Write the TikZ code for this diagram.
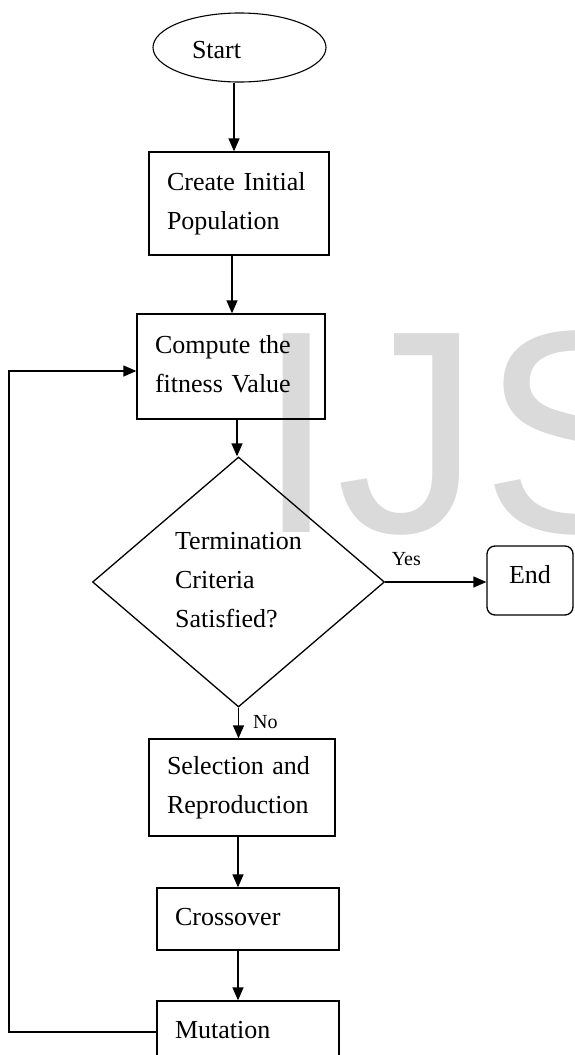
\documentclass[tikz,border=0pt]{standalone}
\usepackage{fontspec}
\setmainfont{Liberation Serif}
\newfontfamily\wmfont{Liberation Sans}
\usetikzlibrary{shapes.geometric,arrows.meta}
\definecolor{wmgray}{RGB}{218,218,218}
% uniform line strut: height 24pt, depth 12pt
\newcommand{\ls}{\rule[-12pt]{0pt}{36pt}}

\begin{document}
\begin{tikzpicture}[x=1pt,y=-1pt,
  every node/.style={font=\fontsize{26}{39}\selectfont},
  box/.style={draw, line width=1.3pt, rectangle, inner xsep=18pt, inner ysep=0pt, align=left},
  arr/.style={line width=1.3pt, -{Triangle[length=13pt,width=11pt]}},
  lbl/.style={font=\fontsize{20}{24}\selectfont, inner sep=0pt}]

\useasboundingbox (0,0) rectangle (574,1055);
\clip (0,0) rectangle (574,1055);

% background mark
\node[font=\wmfont\fontsize{289}{289}\selectfont, text=wmgray, anchor=base west, inner sep=0pt] (wm) at (256,532) {IJS};

% flow nodes
\node[draw, ellipse, line width=1.1pt, minimum width=173pt, minimum height=69pt, inner sep=0pt,
      text width=95pt, align=left, text height=21pt, text depth=0pt] (start) at (239.5,47.5) {Start};
\node[box, minimum height=103pt, text width=144pt] (create) at (239,203.5) {\ls Create Initial\\\ls Population};
\node[box, minimum height=105pt, text width=152pt] (comp) at (231,366.5) {\ls Compute the\\\ls fitness Value};
\node[draw, diamond, line width=1.3pt, minimum width=292pt, minimum height=250pt, inner sep=0pt, align=left]
      (dec) at (238.5,582) {\ls Termination\\\ls Criteria\\\ls Satisfied?};
\node[draw, rounded corners=8pt, line width=1.3pt, minimum width=86pt, minimum height=69pt,
      text height=18pt, text depth=13pt, inner sep=0pt] (end) at (530,580.5) {End};
\node[box, minimum height=97pt, text width=150pt] (sel) at (242,787.5) {\ls Selection and\\\ls Reproduction};
\node[box, minimum height=62pt, text width=146pt] (cross) at (248,919) {\ls Crossover};
\node[box, minimum height=62pt, text width=146pt] (mut) at (248,1032) {\ls Mutation};

% connectors
\draw[arr] ([xshift=-5.5pt]start.south) -- ([xshift=-5pt]create.north);
\draw[arr] ([xshift=-7pt]create.south) -- ([xshift=1pt]comp.north);
\draw[arr] ([xshift=6pt]comp.south) -- ([xshift=-1.5pt]dec.north);
\draw[arr] (dec.east) -- node[lbl, pos=0, anchor=base west, xshift=6pt, yshift=17pt] (yes) {Yes} (dec.east -| end.west);
\draw[arr] (dec.south) -- node[lbl, pos=0, anchor=base west, xshift=14pt, yshift=-21pt] (no) {No} ([xshift=-3.5pt]sel.north);
\draw[arr] ([xshift=-4pt]sel.south) -- ([xshift=-10pt]cross.north);
\draw[arr] ([xshift=-10pt]cross.south) -- ([xshift=-10pt]mut.north);

% loop back to the fitness evaluation
\coordinate (fbB) at (9,1032);
\coordinate (fbT) at (9,371);
\draw[arr] (mut.west) -- (fbB) -- (fbT) -- (fbT -| comp.west);
\end{tikzpicture}
\end{document}
